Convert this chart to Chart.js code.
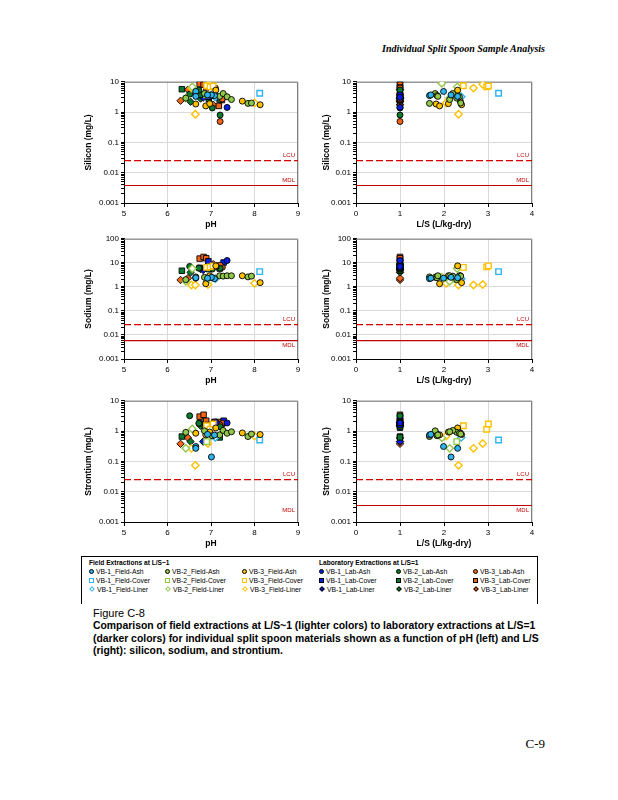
<!DOCTYPE html>
<html>
<head>
<meta charset="utf-8">
<script src="https://cdn.jsdelivr.net/npm/chart.js@4.4.1/dist/chart.umd.min.js"></script>
<style>
body { margin: 0; background: #fff; }
#page { position: relative; width: 618px; height: 800px; overflow: hidden; font-family: "Liberation Sans", Arial, sans-serif; color: #000; }
canvas.plot { position: absolute; }
#runhead { position: absolute; right: 73px; top: 43px; font: italic bold 10px "Liberation Serif", serif; }
#pageno { position: absolute; right: 73px; top: 736px; font: 13px "Liberation Serif", serif; }
#legendBox { position: absolute; left: 81px; top: 556px; width: 455px; height: 47px; border: 1px solid #000; border-bottom: none; }
.lgHead { position: absolute; font-size: 6.6px; font-weight: bold; white-space: nowrap; }
.lgItem { position: absolute; font-size: 6.8px; white-space: nowrap; line-height: 8px; }
.mk { display: inline-block; vertical-align: middle; box-sizing: border-box; margin-right: 2px; position: relative; top: -1px; }
#caption { position: absolute; left: 93px; top: 607px; }
#caption .fig { font-size: 11px; line-height: 13px; }
#caption .txt { font-size: 10.4px; font-weight: bold; line-height: 12.5px; white-space: nowrap; }
</style>
</head>
<body>
<div id="page">
  <div id="runhead">Individual Split Spoon Sample Analysis</div>
  <canvas id="c1" class="plot" width="222" height="155" style="left:84px;top:75px"></canvas>
  <canvas id="c2" class="plot" width="218" height="155" style="left:322px;top:75px"></canvas>
  <canvas id="c3" class="plot" width="222" height="154" style="left:84px;top:232px"></canvas>
  <canvas id="c4" class="plot" width="218" height="154" style="left:322px;top:232px"></canvas>
  <canvas id="c5" class="plot" width="222" height="155" style="left:84px;top:394px"></canvas>
  <canvas id="c6" class="plot" width="218" height="155" style="left:322px;top:394px"></canvas>
  <div id="legendBox"></div>
  <div id="caption">
    <div class="fig">Figure C-8</div>
    <div class="txt">Comparison of field extractions at L/S~1 (lighter colors) to laboratory extractions at L/S=1</div>
    <div class="txt">(darker colors) for individual split spoon materials shown as a function of pH (left) and L/S</div>
    <div class="txt">(right): silicon, sodium, and strontium.</div>
  </div>
  <div id="pageno">C-9</div>
</div>
<script>
// series, in legend order: field (VB-1..3) x Ash/Cover/Liner, then lab
var seriesNames = [
    "VB-1_Field-Ash", "VB-2_Field-Ash", "VB-3_Field-Ash",
    "VB-1_Field-Cover", "VB-2_Field-Cover", "VB-3_Field-Cover",
    "VB-1_Field-Liner", "VB-2_Field-Liner", "VB-3_Field-Liner",
    "VB-1_Lab-Ash", "VB-2_Lab-Ash", "VB-3_Lab-Ash",
    "VB-1_Lab-Cover", "VB-2_Lab-Cover", "VB-3_Lab-Cover",
    "VB-1_Lab-Liner", "VB-2_Lab-Liner", "VB-3_Lab-Liner"
];

var phVals = [
    [6.65, 7.08, 7.01, 6.65, 6.92],
    [6.42, 6.85, 7.03, 7.20, 7.28, 7.37, 7.47, 7.85, 7.93],
    [6.65, 6.88, 6.97, 7.11, 7.72, 8.13],
    [8.12],
    [6.90],
    [6.90, 6.98, 7.05],
    [7.10],
    [6.57, 6.95, 6.42],
    [8.00, 6.55, 6.93, 6.64],
    [7.01, 7.12, 7.37],
    [6.51, 6.72, 7.03, 7.21],
    [7.10, 7.26, 7.21],
    [7.08, 6.94, 7.29],
    [6.33, 6.74, 6.93, 6.95, 7.20],
    [6.74, 6.83, 6.89, 7.18, 7.25],
    [6.82],
    [6.53, 6.76],
    [6.30, 6.47, 7.05]
];

var lsVals = [
    [1.99, 1.67, 2.16, 2.31, 1.70],
    [2.29, 1.80, 1.84, 1.86, 2.20, 2.35, 2.13, 1.67, 2.38],
    [1.82, 1.90, 2.10, 2.31, 2.37, 2.40],
    [3.24],
    [2.29],
    [2.44, 2.97, 3.01],
    [2.39],
    [2.30, 1.95, 2.13],
    [2.05, 2.67, 2.88, 2.33],
    [1, 1, 1],
    [1, 1, 1, 1],
    [1, 1, 1],
    [1, 1, 1],
    [1, 1, 1, 1, 1],
    [1, 1, 1, 1, 1],
    [1],
    [1, 1],
    [1, 1, 1]
];

// silicon (mg/L)
var siVals = [
    [4.8, 3.5, 3.7, 3.3, 3.7],
    [2.9, 4.1, 3.5, 3.3, 4.1, 3.2, 2.6, 1.94, 1.99],
    [1.85, 1.6, 1.9, 5.3, 2.3, 1.75],
    [4.2],
    [3.7],
    [7.4, 6.8, 7.3],
    [3.2],
    [6.8, 9.0, 2.9],
    [2.0, 6.2, 8.3, 0.85],
    [3.7, 3.05, 1.43],
    [3.9, 5.3, 1.37, 0.8],
    [6.2, 2.7, 0.49],
    [3.5, 3.2, 3.3],
    [5.7, 3.7, 3.7, 2.7, 2.6],
    [8.4, 8.0, 6.5, 1.6, 2.5],
    [3.0],
    [2.2, 2.8],
    [2.37, 5.5, 1.75]
];

// sodium (mg/L)
var naVals = [
    [2.3, 2.2, 2.5, 2.4, 2.3],
    [2.0, 2.5, 2.4, 2.9, 2.8, 2.9, 2.9, 2.6, 2.8],
    [2.6, 1.35, 2.9, 7.5, 2.9, 1.5],
    [4.3],
    [2.0],
    [6.5, 6.8, 7.5],
    [2.2],
    [5.8, 2.5, 1.7],
    [1.4, 1.2, 1.25, 1.2],
    [6.5, 7.0, 12.5],
    [7.1, 6.0, 5.5, 6.0],
    [7.5, 6.5, 8.0],
    [8.0, 11.7, 10.3],
    [4.7, 6.2, 6.8, 5.5, 5.8],
    [15, 17.6, 15.5, 7.0, 7.5],
    [5.0],
    [4.0, 5.5],
    [1.94, 2.3, 8.8]
];

// strontium (mg/L)
var srVals = [
    [0.31, 0.74, 0.14, 0.27, 0.78],
    [0.91, 1.02, 0.70, 0.75, 1.05, 0.85, 0.95, 0.66, 0.80],
    [0.85, 0.75, 0.93, 1.27, 0.87, 0.77],
    [0.51],
    [0.45],
    [1.5, 1.15, 1.72],
    [0.62],
    [1.17, 0.6, 0.27],
    [0.69, 0.27, 0.39, 0.074],
    [1.6, 1.9, 1.85],
    [3.2, 1.8, 1.5, 1.4],
    [2.0, 1.8, 1.6],
    [2.0, 1.5, 2.2],
    [0.66, 1.8, 1.6, 1.3, 0.62],
    [3.0, 3.45, 2.2, 2.0, 1.7],
    [0.45],
    [0.45, 1.5],
    [0.38, 0.6, 1.9]
];

// limit lines
var siLimits = { lcu: 0.025, mdl: 0.0038 };
var naLimits = { lcu: 0.027, mdl: 0.0058 };
var srLimits = { lcu: 0.025, mdl: 0.0035 };

var tickLabels4 = ["0.001", "0.01", "0.1", "1", "10"];
var tickLabels5 = ["0.001", "0.01", "0.1", "1", "10", "100"];

// styles
var seriesColors = [
    "#2db4ef", "#92c84a", "#ffc000",
    "#2db4ef", "#92c84a", "#ffc000",
    "#2db4ef", "#92c84a", "#ffc000",
    "#0a1ee0", "#0b7a2e", "#f26418",
    "#0a1ee0", "#0b7a2e", "#f26418",
    "#0a1ee0", "#0b7a2e", "#f26418"
];
var shapes = ["circle", "rect", "rectRot"];
var radii = [3.0, 3.9, 3.7];

Chart.defaults.font.family = '"Liberation Sans", Arial, sans-serif';
Chart.defaults.color = "#000";

function isHollow(s) {
    var mat = Math.floor((s % 9) / 3);
    return s < 9 && mat > 0;
}

function logTicks(loExp, hiExp, labels) {
    var t = [];
    var j = 0;
    for (var e = loExp; e < hiExp; e++) {
        for (var k = 1; k <= 9; k++) {
            var tk = { value: k * Math.pow(10, e), major: k === 1 };
            if (k === 1) tk.txt = labels[j++];
            t.push(tk);
        }
    }
    t.push({ value: Math.pow(10, hiExp), major: true, txt: labels[j] });
    return t;
}

var refPlugin = {
    id: "refLines",
    beforeDatasetsDraw: function (chart) {
        var ctx = chart.ctx, a = chart.chartArea;
        ctx.save();
        ctx.strokeStyle = "#808080";
        ctx.lineWidth = 1;
        ctx.beginPath();
        ctx.moveTo(a.left, a.top + 0.5);
        ctx.lineTo(a.right - 0.5, a.top + 0.5);
        ctx.lineTo(a.right - 0.5, a.bottom);
        ctx.stroke();
        ctx.restore();
    },
    afterDatasetsDraw: function (chart, args, opts) {
        var ctx = chart.ctx, a = chart.chartArea, y = chart.scales.y;
        ctx.save();
        ctx.font = "6px 'Liberation Sans', Arial, sans-serif";
        ctx.fillStyle = "#c00000";
        ctx.textAlign = "right";
        ctx.textBaseline = "middle";
        ctx.fillText("LCU", a.right - 3, y.getPixelForValue(opts.lcu) - 5);
        var my = y.getPixelForValue(opts.mdl);
        ctx.fillText("MDL", a.right - 3, opts.mdlBelow ? my + 5 : my - 5);
        ctx.restore();
    }
};

function makeChart(id, xVals, yVals, cfg) {
    var datasets = [];
    for (var s = 0; s < seriesNames.length; s++) {
        var pts = xVals[s].map(function (x, i) { return { x: x, y: yVals[s][i] }; });
        var mat = Math.floor((s % 9) / 3);
        var hollow = isHollow(s);
        datasets.push({
            label: seriesNames[s],
            data: pts,
            pointStyle: shapes[mat],
            pointRadius: radii[mat],
            pointHoverRadius: radii[mat],
            pointBackgroundColor: hollow ? "#ffffff" : seriesColors[s],
            pointBorderColor: hollow ? seriesColors[s] : "#000000",
            pointBorderWidth: hollow ? 1.4 : 0.9,
            showLine: false
        });
    }
    datasets.push({
        type: "line", label: "LCU",
        data: [{ x: cfg.xMin, y: cfg.limits.lcu }, { x: cfg.xMax, y: cfg.limits.lcu }],
        borderColor: "#d40000", borderWidth: 1.3, borderDash: [7, 3],
        pointRadius: 0, showLine: true
    });
    if (cfg.showMdl) {
        datasets.push({
            type: "line", label: "MDL",
            data: [{ x: cfg.xMin, y: cfg.limits.mdl }, { x: cfg.xMax, y: cfg.limits.mdl }],
            borderColor: "#c00000", borderWidth: 1.1,
            pointRadius: 0, showLine: true
        });
    }
    var yTicks = logTicks(-3, cfg.yHiExp, cfg.yLabels);
    return new Chart(document.getElementById(id).getContext("2d"), {
        type: "scatter",
        data: { datasets: datasets },
        plugins: [refPlugin],
        options: {
            responsive: false,
            animation: false,
            layout: { padding: { top: 6, right: 8, left: 0, bottom: 0 } },
            plugins: {
                legend: { display: false },
                tooltip: { enabled: false },
                refLines: { lcu: cfg.limits.lcu, mdl: cfg.limits.mdl, mdlBelow: cfg.mdlBelow }
            },
            scales: {
                x: {
                    type: "linear", min: cfg.xMin, max: cfg.xMax,
                    afterFit: function (sc) { sc.height = 27; },
                    ticks: { stepSize: 1, font: { size: 8 }, padding: 2, color: "#000" },
                    grid: { color: "#d9d9d9", tickColor: "#000", tickLength: 4 },
                    border: { color: "#000", width: 1 },
                    title: { display: true, text: cfg.xTitle, font: { size: 8.5, weight: "bold" }, padding: { top: 0, bottom: 0 }, color: "#000" }
                },
                y: {
                    type: "logarithmic", min: 0.001, max: Math.pow(10, cfg.yHiExp),
                    afterFit: function (sc) { sc.width = cfg.yWidth; },
                    afterBuildTicks: function (sc) { sc.ticks = yTicks.map(function (t) { return Object.assign({}, t); }); },
                    ticks: {
                        autoSkip: false, font: { size: 8 }, padding: 2, color: "#000",
                        callback: function (v, i, ticks) { return ticks[i].txt || ""; }
                    },
                    grid: {
                        color: function (c) { return c.tick && c.tick.major ? "#d9d9d9" : "rgba(0,0,0,0)"; },
                        tickColor: "#000", tickLength: 3
                    },
                    border: { color: "#000", width: 1 },
                    title: { display: true, text: cfg.yTitle, font: { size: 8.5, weight: "bold" }, padding: { top: 0, bottom: 0 }, color: "#000" }
                }
            }
        }
    });
}

var phAxis = { xMin: 5, xMax: 9, xTitle: "pH", yWidth: 40 };
var lsAxis = { xMin: 0, xMax: 4, xTitle: "L/S (L/kg-dry)", yWidth: 34 };

makeChart("c1", phVals, siVals, Object.assign({ yHiExp: 1, yLabels: tickLabels4, yTitle: "Silicon (mg/L)", limits: siLimits, showMdl: true, mdlBelow: false }, phAxis));
makeChart("c2", lsVals, siVals, Object.assign({ yHiExp: 1, yLabels: tickLabels4, yTitle: "Silicon (mg/L)", limits: siLimits, showMdl: true, mdlBelow: false }, lsAxis));
makeChart("c3", phVals, naVals, Object.assign({ yHiExp: 2, yLabels: tickLabels5, yTitle: "Sodium (mg/L)", limits: naLimits, showMdl: true, mdlBelow: true }, phAxis));
makeChart("c4", lsVals, naVals, Object.assign({ yHiExp: 2, yLabels: tickLabels5, yTitle: "Sodium (mg/L)", limits: naLimits, showMdl: true, mdlBelow: true }, lsAxis));
makeChart("c5", phVals, srVals, Object.assign({ yHiExp: 1, yLabels: tickLabels4, yTitle: "Strontium (mg/L)", limits: srLimits, showMdl: false, mdlBelow: true }, phAxis));
makeChart("c6", lsVals, srVals, Object.assign({ yHiExp: 1, yLabels: tickLabels4, yTitle: "Strontium (mg/L)", limits: srLimits, showMdl: true, mdlBelow: true }, lsAxis));

// legend box (HTML)
var box = document.getElementById("legendBox");
var colX = [7, 83, 160, 237, 314, 391];
var rowY = [11, 20, 29];
[["Field Extractions at L/S~1", 7], ["Laboratory Extractions at L/S=1", 237]].forEach(function (h) {
    var d = document.createElement("div");
    d.className = "lgHead";
    d.style.left = h[1] + "px";
    d.style.top = "2px";
    d.textContent = h[0];
    box.appendChild(d);
});
seriesNames.forEach(function (name, s) {
    var col = Math.floor(s / 9) * 3 + (s % 3);
    var row = Math.floor((s % 9) / 3);
    var hollow = isHollow(s);
    var item = document.createElement("div");
    item.className = "lgItem";
    item.style.left = colX[col] + "px";
    item.style.top = rowY[row] + "px";
    var mk = document.createElement("span");
    mk.className = "mk";
    var sz = row === 2 ? 4 : 5;
    mk.style.width = sz + "px";
    mk.style.height = sz + "px";
    mk.style.background = hollow ? "#fff" : seriesColors[s];
    mk.style.border = hollow ? "1px solid " + seriesColors[s] : "0.6px solid #000";
    if (row === 0) mk.style.borderRadius = "50%";
    if (row === 2) { mk.style.transform = "rotate(45deg)"; mk.style.marginLeft = "1px"; mk.style.marginRight = "3px"; }
    item.appendChild(mk);
    item.appendChild(document.createTextNode(name));
    box.appendChild(item);
});
</script>
</body>
</html>
